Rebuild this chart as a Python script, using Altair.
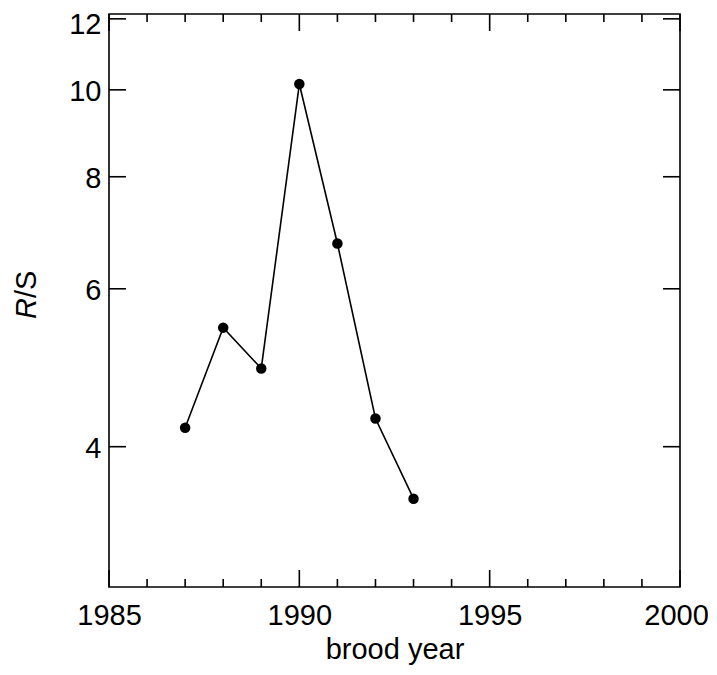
import altair as alt
import pandas as pd

# data
years = [1987, 1988, 1989, 1990, 1991, 1992, 1993]
rs = [4.20, 5.43, 4.89, 10.15, 6.74, 4.30, 3.50]

x_major = [1985, 1990, 1995, 2000]
x_minor = [y for y in range(1986, 2000) if y not in x_major]
y_ticks = [4, 6, 8, 10, 12]

W, H = 571, 573
FONT = "Liberation Sans"
FS = 29
BLACK = "#000000"

df = pd.DataFrame({"year": years, "rs": rs})
xmaj = pd.DataFrame({"year": x_major})
xmin = pd.DataFrame({"year": x_minor})
ytk = pd.DataFrame({"rs": y_ticks})

xscale = alt.Scale(domain=[1985, 2000], nice=False, zero=False)
yscale = alt.Scale(type="log", domain=[2.79, 12.15], nice=False)

xaxis = alt.Axis(values=x_major, format="d", ticks=False, domain=False, grid=False,
                 labelFontSize=FS, labelFont=FONT, labelColor=BLACK, labelPadding=14,
                 labelOffset={"condition": {"test": "datum.value == 2000", "value": -4}, "value": 0},
                 labelFlush=False, labelOverlap=False,
                 title="brood year", titleFont=FONT, titleFontSize=FS,
                 titleFontWeight="normal", titleColor=BLACK, titlePadding=5)
yaxis = alt.Axis(values=y_ticks, format="d", ticks=False, domain=False, grid=False,
                 labelFontSize=FS, labelFont=FONT, labelColor=BLACK, labelPadding=8,
                 labelOffset={"condition": {"test": "datum.value == 12", "value": 6}, "value": 2},
                 labelFlush=False, labelOverlap=False, title=None)

base = alt.Chart(df)
line = base.mark_line(color=BLACK, strokeWidth=1.6).encode(
    x=alt.X("year:Q", scale=xscale, axis=xaxis),
    y=alt.Y("rs:Q", scale=yscale, axis=yaxis),
)
pts = base.mark_circle(color=BLACK, opacity=1, size=110).encode(x="year:Q", y="rs:Q")

TW = 1.6
MAJ, MIN = 17, 8

def xrule(data, y0, y1):
    return alt.Chart(data).mark_rule(color=BLACK, strokeWidth=TW).encode(
        x="year:Q", y=alt.value(y0), y2=alt.value(y1))

def yrule(x0, x1):
    return alt.Chart(ytk).mark_rule(color=BLACK, strokeWidth=TW).encode(
        y="rs:Q", x=alt.value(x0), x2=alt.value(x1))

ticks = [
    xrule(xmaj, H, H - MAJ), xrule(xmin, H, H - MIN),
    xrule(xmaj, 0, MAJ), xrule(xmin, 0, MIN),
    yrule(0, MAJ), yrule(W, W - MAJ),
]

anchor_y = 284
t_r = alt.Chart(pd.DataFrame({"t": ["R"]})).mark_text(
    font=FONT, fontSize=FS, fontStyle="italic", angle=270, align="right",
    baseline="middle", color=BLACK).encode(
    text="t:N", x=alt.value(-82.5), y=alt.value(anchor_y))
t_s = alt.Chart(pd.DataFrame({"t": ["/S"]})).mark_text(
    font=FONT, fontSize=FS, angle=270, align="left",
    baseline="middle", color=BLACK).encode(
    text="t:N", x=alt.value(-82.5), y=alt.value(anchor_y))

chart = alt.layer(line, pts, *ticks, t_r, t_s).properties(
    width=W, height=H,
    autosize=alt.AutoSizeParams(type="none"),
    padding={"left": 101, "top": 6, "right": 28, "bottom": 88},
).configure(background="white").configure_view(stroke=BLACK, strokeWidth=1.6)

chart.save("out.html", embed_options={"renderer": "svg", "actions": False})
